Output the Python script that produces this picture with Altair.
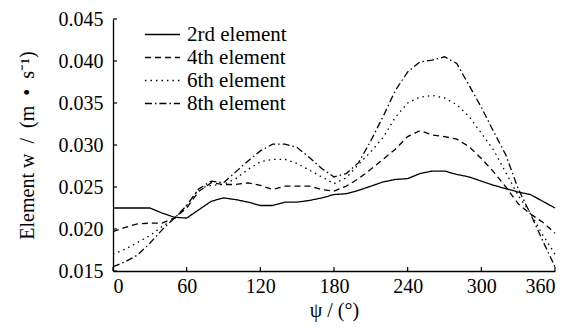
import altair as alt
import pandas as pd

psi = list(range(0, 361, 10))
series_names = ["2rd element", "4th element", "6th element", "8th element"]

w_2rd = [0.0225, 0.0225, 0.0225, 0.0225, 0.0219, 0.0214, 0.0213, 0.0223, 0.0233, 0.0237,
         0.0235, 0.0232, 0.0228, 0.0228, 0.0232, 0.0232, 0.0234, 0.0237, 0.0241, 0.0242,
         0.0246, 0.0251, 0.0256, 0.0259, 0.0260, 0.0266, 0.0269, 0.0269, 0.0265, 0.0262,
         0.0257, 0.0252, 0.0248, 0.0244, 0.0241, 0.0233, 0.0225]
w_4th = [0.0197, 0.0202, 0.0206, 0.0207, 0.0207, 0.0213, 0.0225, 0.0245, 0.0255, 0.0253,
         0.0253, 0.0255, 0.0252, 0.0247, 0.0251, 0.0251, 0.0251, 0.0247, 0.0245, 0.0251,
         0.0260, 0.0271, 0.0283, 0.0295, 0.0310, 0.0317, 0.0312, 0.0310, 0.0307, 0.0298,
         0.0284, 0.0268, 0.0250, 0.0230, 0.0218, 0.0208, 0.0195]
w_6th = [0.0170, 0.0176, 0.0184, 0.0192, 0.0203, 0.0212, 0.0228, 0.0248, 0.0252, 0.0253,
         0.0260, 0.0271, 0.0280, 0.0283, 0.0283, 0.0278, 0.0270, 0.0262, 0.0254, 0.0261,
         0.0277, 0.0292, 0.0309, 0.0333, 0.0350, 0.0357, 0.0359, 0.0356, 0.0348, 0.0334,
         0.0314, 0.0294, 0.0267, 0.0240, 0.0219, 0.0193, 0.0170]
w_8th = [0.0155, 0.0161, 0.0169, 0.0183, 0.0199, 0.0213, 0.0228, 0.0248, 0.0257, 0.0255,
         0.0268, 0.0281, 0.0293, 0.0301, 0.0301, 0.0297, 0.0285, 0.0272, 0.0262, 0.0266,
         0.0279, 0.0305, 0.0334, 0.0365, 0.0387, 0.0399, 0.0401, 0.0405, 0.0397, 0.0371,
         0.0345, 0.0316, 0.0288, 0.0248, 0.0218, 0.0186, 0.0155]

y_ticks = [0.015, 0.020, 0.025, 0.030, 0.035, 0.040, 0.045]
x_ticks = [0, 60, 120, 180, 240, 300, 360]

rows = []
for name, vals in zip(series_names, [w_2rd, w_4th, w_6th, w_8th]):
    for p, v in zip(psi, vals):
        rows.append({"psi": p, "w": v, "series": name})
df = pd.DataFrame(rows)

FONT = "Liberation Serif"
W, H = 442, 252
EN = "\u2002"

x_scale = alt.Scale(domain=[0, 360], nice=False)
y_scale = alt.Scale(domain=[0.015, 0.045], nice=False, zero=False)

x_axis = alt.Axis(values=x_ticks, title="ψ / (°)", grid=False, ticks=False,
                  labelFont=FONT, titleFont=FONT, labelColor="black", titleColor="black",
                  labelFontSize=20, titleFontSize=20, labelPadding=5, titlePadding=4,
                  titleFontWeight="normal", domainColor="black", domainWidth=1.3)
y_axis = alt.Axis(values=y_ticks, format=".3f",
                  title=f"Element w{EN}/{EN}(m{EN}•{EN}s⁻¹)", grid=False, ticks=False,
                  labelFont=FONT, titleFont=FONT, labelColor="black", titleColor="black",
                  labelFontSize=20, titleFontSize=20, labelPadding=10,
                  titlePadding=21, titleFontWeight="normal",
                  domainColor="black", domainWidth=1.3)

lines = alt.Chart(df).mark_line(color="black", strokeWidth=1.3).encode(
    x=alt.X("psi:Q", scale=x_scale, axis=x_axis),
    y=alt.Y("w:Q", scale=y_scale, axis=y_axis),
    strokeDash=alt.StrokeDash("series:N",
        scale=alt.Scale(domain=series_names, range=[[1, 0], [6, 4], [1.5, 4], [7, 3, 1.5, 3]]),
        legend=alt.Legend(title=None, orient="none", legendX=39, legendY=5,
                          symbolType="M-4,0H4", symbolSize=77, symbolStrokeWidth=1.3,
                          symbolStrokeColor="black", symbolFillColor="transparent",
                          labelFontSize=21, labelFont=FONT, labelOffset=14, rowPadding=1,
                          labelColor="black")),
    detail="series:N",
)

xtick_marks = alt.Chart(pd.DataFrame({"psi": x_ticks})).mark_rule(color="black", strokeWidth=1.2).encode(
    x=alt.X("psi:Q", scale=x_scale, axis=x_axis),
    y=alt.value(H), y2=alt.value(H - 4),
)
ytick_marks = alt.Chart(pd.DataFrame({"w": y_ticks})).mark_rule(color="black", strokeWidth=1.2).encode(
    y=alt.Y("w:Q", scale=y_scale, axis=y_axis),
    x=alt.value(0), x2=alt.value(4),
)

chart = alt.layer(lines, xtick_marks, ytick_marks).properties(
    width=W, height=H,
    autosize=alt.AutoSizeParams(type="none"),
    padding={"left": 105, "top": 11, "right": 19, "bottom": 52},
).configure(font=FONT).configure_view(stroke=None)

chart.save("out.html", embed_options={"renderer": "svg", "actions": False})
